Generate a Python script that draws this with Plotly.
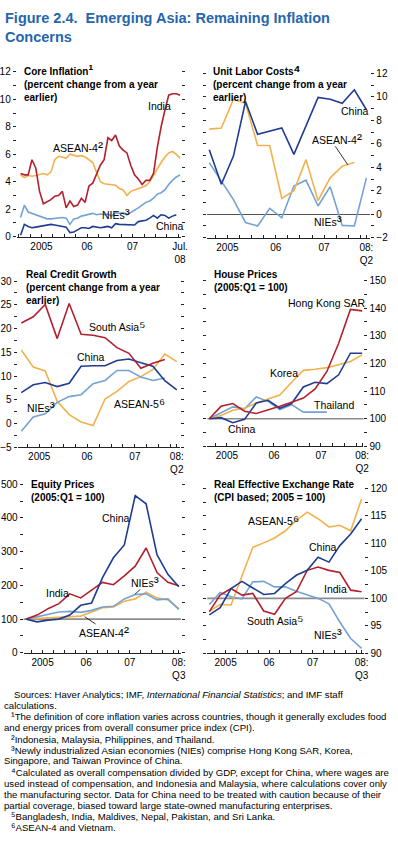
import plotly.graph_objects as go
import pandas as pd

W, H = 398, 860
FONT = "Liberation Sans, Arial, Helvetica, DejaVu Sans, sans-serif"
TITLE_BLUE = "#2566ad"
RED, ORANGE, LBLUE, DBLUE = "#b3202f", "#f2b14c", "#74a3d3", "#1f3d91"
GRAY = "#8c8c8c"

# ---------------- periods ----------------
MONTHS = pd.period_range("2005-01", "2008-07", freq="M")
QTRS_Q2 = pd.period_range("2005Q1", "2008Q2", freq="Q")
QTRS_Q3 = pd.period_range("2005Q1", "2008Q3", freq="Q")
MON_X = [p.year + (p.month - 0.5) / 12 for p in MONTHS]
Q2_X = [p.year + (p.quarter - 0.5) / 4 for p in QTRS_Q2]
Q3_X = [p.year + (p.quarter - 0.5) / 4 for p in QTRS_Q3]

YEAR_LABELS = ["2005", "06", "07"]
YEAR_MIDS = [2005.5, 2006.5, 2007.5]

# ---------------- data ----------------
# Core inflation (monthly, Jan 2005 - Jul 2008)
core_india = [4.6, 4.5, 4.5, 5.6, 5.0, 3.3, 2.4, 2.55, 2.7, 2.95, 3.0, 3.3, 2.1, 2.6, 2.2,
              2.3, 2.8, 2.5, 3.7, 3.9, 4.6, 5.2, 5.6, 7.2, 7.0, 7.4, 6.6, 6.3, 6.1, 5.2,
              4.5, 4.2, 3.8, 4.1, 4.1, 4.6, 6.5, 8.0, 9.2, 10.3, 10.4, 10.4, 10.3]
core_asean4 = [4.5, 4.3, 4.45, 4.4, 4.45, 4.5, 4.6, 4.5, 4.7, 5.6, 5.85, 5.8, 5.7, 6.0, 5.9,
               5.85, 5.9, 5.8, 5.6, 5.4, 4.7, 4.0, 3.85, 3.8, 3.8, 3.75, 3.5, 3.4, 3.0, 3.3,
               3.4, 3.5, 3.55, 3.7, 4.0, 4.5, 4.9, 5.4, 5.8, 6.1, 6.2, 6.0, 5.7]
core_nies = [1.4, 2.3, 1.8, 1.7, 1.6, 1.5, 1.35, 1.3, 1.3, 1.35, 1.35, 1.4, 1.35, 0.9, 1.3,
             1.35, 1.5, 1.55, 1.6, 1.7, 1.6, 1.65, 1.6, 1.65, 1.5, 1.75, 1.7, 1.75, 1.6, 1.75,
             1.9, 2.1, 2.3, 2.5, 2.6, 2.8, 3.1, 3.2, 3.4, 3.8, 4.1, 4.35, 4.5]
core_china = [0.1, 0.9, 0.75, 0.65, 0.7, 0.75, 0.85, 0.9, 0.9, 0.85, 0.8, 0.75, 0.7, 0.3, 0.35,
              0.5, 0.65, 0.65, 0.6, 0.75, 0.7, 0.65, 0.7, 0.75, 0.65, 0.95, 0.9, 0.9, 0.85, 0.9,
              0.85, 1.1, 1.15, 1.2, 1.35, 1.55, 1.35, 1.6, 1.55, 1.35, 1.5, 1.6]

# Unit labor costs (quarterly, 2005:Q1 - 2008:Q2)
ulc_china = [5.5, 2.55, 4.95, 9.6, 6.8, 7.05, 7.35, 5.1, 7.5, 9.95, 9.8, 9.45, 10.6, 8.9]
ulc_asean4 = [7.25, 7.35, 9.8, 9.45, 5.85, 5.85, 1.35, 2.0, 4.65, 1.15, 3.1, 4.1, 4.4]
ulc_nies = [4.4, 2.8, 1.25, -0.7, -1.0, 0.5, -0.3, 2.4, 2.9, 0.7, 2.35, -0.95, -1.0, 3.1]

# Real credit growth (quarterly, 2005:Q1 - 2008:Q2)
cr_southasia = [21.2, 22.5, 25.1, 17.9, 25.3, 18.8, 18.6, 18.1, 16.0, 14.8, 11.65, 12.7, 13.5]
cr_china = [6.55, 8.2, 8.65, 7.8, 8.5, 12.1, 12.2, 12.2, 13.3, 13.6, 12.8, 12.1, 9.05, 7.1]
cr_asean5 = [15.5, 11.9, 11.1, 4.7, 1.9, 0.35, -0.4, 5.2, 6.8, 8.9, 9.9, 11.4, 14.65, 13.05]
cr_nies = [-1.6, 1.4, 2.1, 4.5, 5.7, 6.1, 8.4, 9.1, 11.2, 11.2, 9.8, 9.1, 9.6]

# House prices (2005:Q1 = 100, quarterly to 2008:Q2)
hp_hongkong = [100, 104.5, 105.5, 102.75, 101.9, 103.1, 104.5, 106, 107.5, 110.8, 117.1, 127.3, 139.5, 139]
hp_korea = [100, 101.2, 103.1, 103.8, 105.7, 107.2, 108.6, 113.2, 117.5, 117.9, 118.5, 119.5, 120.7, 123.1]
hp_china = [100, 100.4, 98.6, 99.8, 105.7, 106.7, 103.8, 105.5, 111.5, 113.2, 112.7, 115.9, 123.7, 123.7]
hp_thailand = [100, 102.2, 104.3, 103.6, 107.9, 106.3, 103.3, 105.1, 102.4, 102.4, 102.4]

# Equity prices (2005:Q1 = 100, quarterly to 2008:Q3)
eq_china = [100, 92, 97, 100, 112, 141, 148, 223, 282, 320, 466, 442, 291, 233, 196]
eq_india = [100, 112, 131, 146, 175, 163, 186, 209, 202, 228, 257, 311, 238, 209, 199]
eq_nies = [100, 107, 116, 121, 123, 120, 126, 136, 138, 160, 173, 175, 157, 160, 129]
eq_asean4 = [100, 102, 104, 107, 109, 109, 121, 134, 136, 153, 160, 180, 163, 157, 131]

# Real effective exchange rate (2005 = 100, quarterly to 2008:Q3)
re_china = [97.0, 98.3, 101.8, 103.1, 101.9, 100.7, 100.9, 102.7, 104.2, 105.1, 107.5, 106.6, 109.6, 111.7, 114.5]
re_asean5 = [97.6, 98.9, 98.8, 104.0, 109.3, 110.1, 111.0, 112.3, 114.2, 115.7, 114.5, 113.0, 113.3, 112.3, 118.1]
re_india = [97.6, 100.6, 101.8, 100.6, 100.9, 97.7, 97.1, 100.0, 101.2, 105.1, 105.7, 105.1, 104.7, 101.5, 101.2]
re_nies = [98.9, 101.1, 100.3, 99.9, 103.0, 103.1, 102.1, 102.1, 101.3, 100.6, 100.0, 99.0, 95.7, 92.7, 90.9]

# ---------------- panel geometry (pixels) ----------------
PANELS = {
    1: dict(xdom=(17, 184), x0=19.0, ppy=46.4, ydom=(66.7, 234.0), yr=(0, 12), dt=2, mn=1,
            side="left", end=(MON_X[-1], "Jul.<br>08")),
    2: dict(xdom=(211, 377), x0=206.85, ppy=49.23, ydom=(68.3, 235.0), yr=(-2, 12), dt=2, mn=1,
            side="right", end=(Q2_X[-1], "08:<br>Q2")),
    3: dict(xdom=(18, 183), x0=15.6, ppy=48.7, ydom=(279.0, 447.7), yr=(-5, 30), dt=5, mn=2.5,
            side="left", end=(Q2_X[-1], "08:<br>Q2")),
    4: dict(xdom=(211, 370), x0=207.0, ppy=47.9, ydom=(278.3, 446.7), yr=(90, 150), dt=10, mn=5,
            side="right", end=(Q2_X[-1], "08:<br>Q2")),
    5: dict(xdom=(24, 184), x0=21.15, ppy=44.37, ydom=(485.0, 656.0), yr=(0, 500), dt=100, mn=50,
            side="left", end=(Q3_X[-1], "08:<br>Q3")),
    6: dict(xdom=(211, 371), x0=207.5, ppy=44.29, ydom=(489.3, 656.5), yr=(90, 120), dt=5, mn=2.5,
            side="right", end=(Q3_X[-1], "08:<br>Q3")),
}

fig = go.Figure()


def ax(n, kind):
    return f"{kind}{'' if n == 1 else n}"


def add_line(n, x, y, color):
    fig.add_trace(go.Scatter(x=x[:len(y)], y=y, mode="lines",
                             line=dict(color=color, width=1.6),
                             xaxis=ax(n, "x"), yaxis=ax(n, "y"),
                             hoverinfo="skip", showlegend=False))


add_line(1, MON_X, core_asean4, ORANGE)
add_line(1, MON_X, core_nies, LBLUE)
add_line(1, MON_X, core_china, DBLUE)
add_line(1, MON_X, core_india, RED)

add_line(2, Q2_X, ulc_nies, LBLUE)
add_line(2, Q2_X, ulc_asean4, ORANGE)
add_line(2, Q2_X, ulc_china, DBLUE)

add_line(3, Q2_X, cr_asean5, ORANGE)
add_line(3, Q2_X, cr_nies, LBLUE)
add_line(3, Q2_X, cr_china, DBLUE)
add_line(3, Q2_X, cr_southasia, RED)

add_line(4, Q2_X, hp_thailand, LBLUE)
add_line(4, Q2_X, hp_korea, ORANGE)
add_line(4, Q2_X, hp_china, DBLUE)
add_line(4, Q2_X, hp_hongkong, RED)

add_line(5, Q3_X, eq_asean4, ORANGE)
add_line(5, Q3_X, eq_nies, LBLUE)
add_line(5, Q3_X, eq_india, RED)
add_line(5, Q3_X, eq_china, DBLUE)

add_line(6, Q3_X, re_nies, LBLUE)
add_line(6, Q3_X, re_asean5, ORANGE)
add_line(6, Q3_X, re_india, RED)
add_line(6, Q3_X, re_china, DBLUE)

tickfont = dict(family=FONT, size=10, color="black")
layout_axes = {}
for n, p in PANELS.items():
    l, r = p["xdom"]
    xr = [2005 + (l - p["x0"]) / p["ppy"], 2005 + (r - p["x0"]) / p["ppy"]]
    top, bot = p["ydom"]
    layout_axes[ax(n, "xaxis")] = dict(
        domain=[l / W, r / W], range=xr, anchor=ax(n, "y"),
        showline=True, linecolor="#222", linewidth=1, showgrid=False, zeroline=False,
        tickmode="array", tickvals=YEAR_MIDS + [p["end"][0]],
        ticktext=YEAR_LABELS + [p["end"][1]],
        ticks="inside", ticklen=3, tickcolor="#222", tickwidth=1, tickfont=tickfont,
        minor=dict(tick0=2005, dtick=0.25, ticks="inside", ticklen=3, tickcolor="#222", tickwidth=1),
        fixedrange=True)
    layout_axes[ax(n, "yaxis")] = dict(
        domain=[1 - bot / H, 1 - top / H], range=list(p["yr"]), anchor=ax(n, "x"),
        side=p["side"], showline=False, showgrid=False,
        zeroline=(n == 2), zerolinecolor="#555", zerolinewidth=1.2,
        tickmode="linear", tick0=p["yr"][0], dtick=p["dt"],
        ticks="outside", ticklen=3, tickcolor="#222", tickwidth=1, mirror="ticks",
        minor=dict(tick0=p["yr"][0], dtick=p["mn"], ticks="outside", ticklen=3, tickcolor="#222", tickwidth=1),
        tickfont=tickfont, fixedrange=True)

# reference lines at 100
for n in (4, 5, 6):
    fig.add_shape(type="line", xref=f"x{n} domain", yref=f"y{n}", x0=0, x1=1, y0=100, y1=100,
                  line=dict(color=GRAY, width=1.6), layer="below")


def px(x):
    return x / W


def py(y):
    return 1 - y / H


def sup(ch, size):
    return f"<span style='font-size:{size}px'>{ch}</span>"


annots = []


def text(x, y, s, size=10.5, color="black", anchor="left", yanchor="middle", bold=False):
    if bold:
        s = f"<b>{s}</b>"
    annots.append(dict(x=px(x), y=py(y), xref="paper", yref="paper", text=s, showarrow=False,
                       xanchor=anchor, yanchor=yanchor, align="left",
                       font=dict(family=FONT, size=size, color=color)))


# figure title
text(3, 2, "Figure 2.4.\u00a0 Emerging Asia: Remaining Inflation<br>Concerns", size=14.5,
     color=TITLE_BLUE, yanchor="top", bold=True)

# panel titles
S_T = 14
text(22.7, 54.5, f"Core Inflation{sup('¹', S_T)}<br>(percent change from a year<br>earlier)", size=10, yanchor="top", bold=True)
text(214.7, 54.5, f"Unit Labor Costs{sup('⁴', S_T)}<br>(percent change from a year<br>earlier)", size=10, yanchor="top", bold=True)
text(24, 264.5, "Real Credit Growth<br>(percent change from a year<br>earlier)", size=10, yanchor="top", bold=True)
text(215.3, 264.5, "House Prices<br>(2005:Q1 = 100)", size=10, yanchor="top", bold=True)
text(29.3, 477.5, "Equity Prices<br>(2005:Q1 = 100)", size=10, yanchor="top", bold=True)
text(216.3, 477.5, "Real Effective Exchange Rate<br>(CPI based; 2005 = 100)", size=10, yanchor="top", bold=True)

# series labels
S_L = 15
text(148.3, 101, "India")
text(51.7, 142, f"ASEAN-4{sup('²', S_L)}")
text(101.7, 210, f"NIEs{sup('³', S_L)}")
text(156.7, 223, "China")

text(344.7, 106.7, "China")
text(315.3, 134, f"ASEAN-4{sup('²', S_L)}")
text(318, 218, f"NIEs{sup('³', S_L)}")

text(88.3, 324, f"South Asia{sup('⁵', S_L)}")
text(76.7, 356, "China")
text(25, 406, f"NIEs{sup('³', S_L)}")
text(114, 402.5, f"ASEAN-5{sup('⁶', S_L)}")

text(291.3, 301.7, "Hong Kong SAR")
text(273, 372.7, "Korea")
text(317.3, 404.2, "Thailand")
text(229.7, 428.7, "China")

text(101.7, 519.5, "China")
text(44.3, 595.8, "India")
text(131.7, 584, f"NIEs{sup('³', S_L)}")
text(78.3, 634, f"ASEAN-4{sup('²', S_L)}")

text(250.7, 521, f"ASEAN-5{sup('⁶', S_L)}")
text(313, 548.3, "China")
text(328, 591.3, "India")
text(249.7, 622.5, f"South Asia{sup('⁵', S_L)}")
text(318, 636, f"NIEs{sup('³', S_L)}")

# leader lines
for (x0, y0, x1, y1) in [(341.3, 142.3, 354, 161), (86, 619.3, 97.3, 626.7), (142.7, 591.7, 137.3, 596.7)]:
    fig.add_shape(type="line", xref="paper", yref="paper", x0=px(x0), y0=py(y0), x1=px(x1), y1=py(y1),
                  line=dict(color="black", width=0.8))

# footnotes
S_F = 11
FOOT = [
    (12, "Sources: Haver Analytics; IMF, <i>International Financial Statistics</i>; and IMF staff"),
    (2, "calculations."),
    (9, f"{sup('¹', S_F)}The definition of core inflation varies across countries, though it generally excludes food"),
    (2, "and energy prices from overall consumer price index (CPI)."),
    (9, f"{sup('²', S_F)}Indonesia, Malaysia, Philippines, and Thailand."),
    (9, f"{sup('³', S_F)}Newly industrialized Asian economies (NIEs) comprise Hong Kong SAR, Korea,"),
    (2, "Singapore, and Taiwan Province of China."),
    (9, f"{sup('⁴', S_F)}Calculated as overall compensation divided by GDP, except for China, where wages are"),
    (2, "used instead of compensation, and Indonesia and Malaysia, where calculations cover only"),
    (2, "the manufacturing sector. Data for China need to be treated with caution because of their"),
    (2, "partial coverage, biased toward large state-owned manufacturing enterprises."),
    (9, f"{sup('⁵', S_F)}Bangladesh, India, Maldives, Nepal, Pakistan, and Sri Lanka."),
    (9, f"{sup('⁶', S_F)}ASEAN-4 and Vietnam."),
]
for i, (x, s) in enumerate(FOOT):
    text(x, 698 + i * 11.25, s, size=9.6)

fig.update_layout(width=W, height=H, margin=dict(l=0, r=0, t=0, b=0),
                  paper_bgcolor="white", plot_bgcolor="white",
                  font=dict(family=FONT, size=10, color="black"),
                  showlegend=False, annotations=annots, **layout_axes)

fig.write_html("out.html", config={"displayModeBar": False, "staticPlot": True},
               post_script="document.body.style.margin='0';document.body.style.overflow='hidden';")
